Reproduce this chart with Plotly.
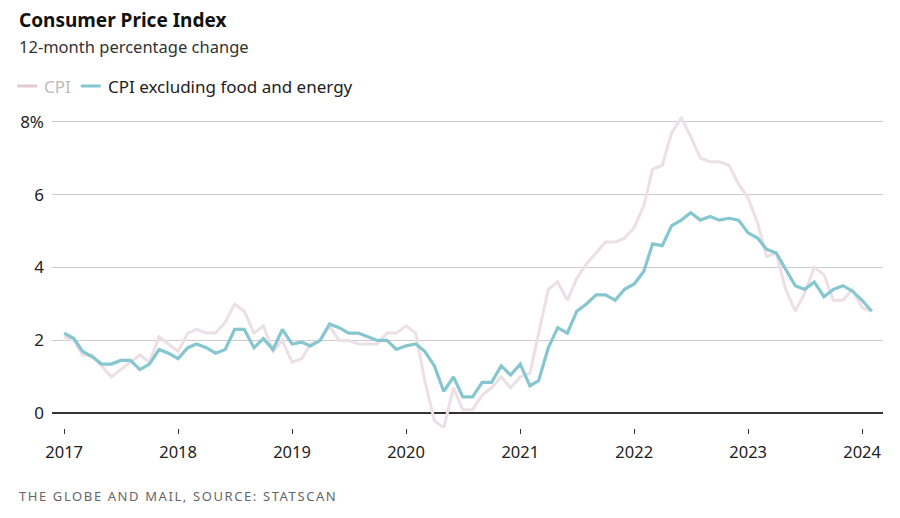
import pandas as pd
import plotly.graph_objects as go

# ---- data ----
months = pd.date_range("2017-01-01", periods=86, freq="MS")
cpi = [2.1, 2.0, 1.6, 1.6, 1.3, 1.0, 1.2, 1.4, 1.6, 1.4, 2.1, 1.9,
       1.7, 2.2, 2.3, 2.2, 2.2, 2.5, 3.0, 2.8, 2.2, 2.4, 1.7, 2.0,
       1.4, 1.5, 1.9, 2.0, 2.4, 2.0, 2.0, 1.9, 1.9, 1.9, 2.2, 2.2,
       2.4, 2.2, 0.9, -0.2, -0.4, 0.7, 0.1, 0.1, 0.5, 0.7, 1.0, 0.7,
       1.0, 1.1, 2.2, 3.4, 3.6, 3.1, 3.7, 4.1, 4.4, 4.7, 4.7, 4.8,
       5.1, 5.7, 6.7, 6.8, 7.7, 8.1, 7.6, 7.0, 6.9, 6.9, 6.8, 6.3,
       5.9, 5.2, 4.3, 4.4, 3.4, 2.8, 3.3, 4.0, 3.8, 3.1, 3.1, 3.4,
       2.9, 2.8]
core = [2.2, 2.05, 1.7, 1.55, 1.35, 1.35, 1.45, 1.45, 1.2, 1.35, 1.75, 1.65,
        1.5, 1.8, 1.9, 1.8, 1.65, 1.75, 2.3, 2.3, 1.8, 2.05, 1.75, 2.3,
        1.9, 1.95, 1.85, 2.0, 2.45, 2.35, 2.2, 2.2, 2.1, 2.0, 2.0, 1.75,
        1.85, 1.9, 1.7, 1.3, 0.6, 1.0, 0.45, 0.45, 0.85, 0.85, 1.3, 1.05,
        1.35, 0.75, 0.9, 1.8, 2.35, 2.2, 2.8, 3.0, 3.25, 3.25, 3.1, 3.4,
        3.55, 3.9, 4.65, 4.6, 5.15, 5.3, 5.5, 5.3, 5.4, 5.3, 5.35, 5.3,
        4.95, 4.8, 4.5, 4.4, 3.95, 3.5, 3.4, 3.6, 3.2, 3.4, 3.5, 3.35,
        3.1, 2.8]
year_ticks = [f"{y}-01-01" for y in range(2017, 2025)]
year_labels = [str(y) for y in range(2017, 2025)]
y_ticks = [0, 2, 4, 6, 8]
y_labels = ["0", "2", "4", "6", "8%"]
series_names = ["CPI", "CPI excluding food and energy"]

# ---- styling ----
OFF = 8  # page body margin
W, H = 900 - OFF, 518 - OFF
L, R = 46 - OFF, 17
T = 110 - OFF
B = H - (428 - OFF)
FONT = "Noto Sans"
PINK = "#ecdfe5"
PINK_SW = "#e4c9d3"
TEAL = "#86c7cf"

Y0_PAGE, Y8_PAGE = 413.3, 121.7
px_per_unit = (Y0_PAGE - Y8_PAGE) / 8.0
y_top = 8 + ((Y8_PAGE - OFF) - T) / px_per_unit
y_bot = -((H - B) - (Y0_PAGE - OFF)) / px_per_unit

pw = W - L - R
ph = H - T - B


def pxx(p):
    """page x pixel -> paper x"""
    return (p - OFF - L) / pw


def pxy(p):
    """page y pixel -> paper y"""
    return 1 - (p - OFF - T) / ph


fig = go.Figure()
fig.add_trace(go.Scatter(x=months, y=cpi, mode="lines", name=series_names[0],
                         line=dict(color=PINK, width=3), showlegend=False))
fig.add_trace(go.Scatter(x=months, y=core, mode="lines", name=series_names[1],
                         line=dict(color=TEAL, width=3.2), showlegend=False))

shapes = [
    dict(type="line", xref="paper", yref="paper", x0=pxx(11), x1=pxx(31),
         y0=pxy(86), y1=pxy(86), line=dict(color=PINK_SW, width=3)),
    dict(type="line", xref="paper", yref="paper", x0=pxx(75), x1=pxx(95),
         y0=pxy(86), y1=pxy(86), line=dict(color=TEAL, width=3)),
]

annotations = [
    dict(text="<b>Consumer Price Index</b>", x=pxx(11), y=pxy(20), xref="paper", yref="paper",
         xanchor="left", yanchor="middle", showarrow=False,
         font=dict(family=FONT, size=19, color="#111111")),
    dict(text="12-month percentage change", x=pxx(11), y=pxy(46), xref="paper", yref="paper",
         xanchor="left", yanchor="middle", showarrow=False,
         font=dict(family=FONT, size=16.5, color="#333333")),
    dict(text=series_names[0], x=pxx(36), y=pxy(86), xref="paper", yref="paper",
         xanchor="left", yanchor="middle", showarrow=False,
         font=dict(family=FONT, size=17, color="#bbbbbb")),
    dict(text=series_names[1], x=pxx(100), y=pxy(86), xref="paper", yref="paper",
         xanchor="left", yanchor="middle", showarrow=False,
         font=dict(family=FONT, size=17, color="#222222")),
    dict(text="<span style='letter-spacing:1.6px'>THE GLOBE AND MAIL, SOURCE: STATSCAN</span>",
         x=pxx(11), y=pxy(496), xref="paper", yref="paper",
         xanchor="left", yanchor="middle", showarrow=False,
         font=dict(family=FONT, size=13, color="#666666")),
]

fig.update_layout(
    width=W, height=H,
    margin=dict(l=L, r=R, t=T, b=B),
    paper_bgcolor="white", plot_bgcolor="white",
    showlegend=False,
    shapes=shapes, annotations=annotations,
    xaxis=dict(range=["2016-11-23", "2024-03-08"], tickvals=year_ticks, ticktext=year_labels,
               showgrid=False, zeroline=False, showline=False,
               ticks="outside", ticklen=5, tickwidth=1, tickcolor="#333333",
               ticklabelstandoff=4,
               tickfont=dict(family=FONT, size=16.5, color="#222222")),
    yaxis=dict(range=[y_bot, y_top], tickvals=y_ticks, ticktext=y_labels,
               showgrid=True, gridcolor="#cccccc", gridwidth=1,
               zeroline=True, zerolinecolor="#333333", zerolinewidth=1.5,
               showline=False, ticks="", ticklabelstandoff=7,
               tickfont=dict(family=FONT, size=17, color="#222222")),
)

fig.write_html("out.html")
